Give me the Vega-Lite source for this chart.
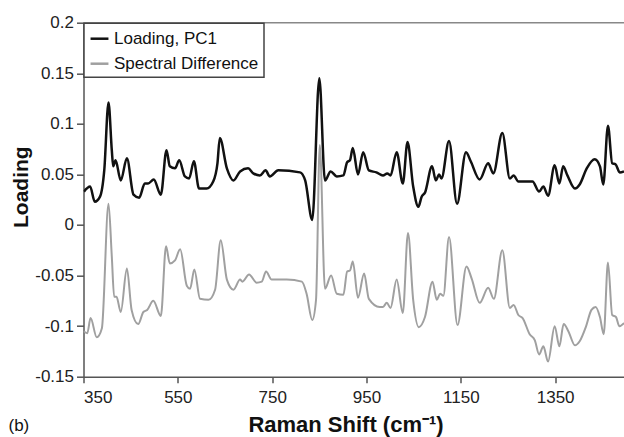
{
  "$schema": "https://vega.github.io/schema/vega-lite/v6.json",
  "width": 540.5,
  "height": 354,
  "autosize": {"type": "none"},
  "padding": {"left": 83.5, "top": 22.7, "right": 0, "bottom": 60.3},
  "background": "white",
  "title": {"text": "(b)", "orient": "bottom", "anchor": "start", "frame": "group", "fontSize": 17, "fontWeight": "normal", "color": "#111", "dx": -75, "offset": -18},
  "datasets": {
    "pc1": [
      {"s":"Loading, PC1","x":351,"y":0.033},{"s":"Loading, PC1","x":364,"y":0.038},{"s":"Loading, PC1","x":374,"y":0.023},{"s":"Loading, PC1","x":385,"y":0.028},{"s":"Loading, PC1","x":394,"y":0.054},{"s":"Loading, PC1","x":403,"y":0.121},{"s":"Loading, PC1","x":410,"y":0.074},{"s":"Loading, PC1","x":413,"y":0.058},{"s":"Loading, PC1","x":418,"y":0.064},{"s":"Loading, PC1","x":429,"y":0.044},{"s":"Loading, PC1","x":442,"y":0.066},{"s":"Loading, PC1","x":456,"y":0.030},{"s":"Loading, PC1","x":468,"y":0.027},{"s":"Loading, PC1","x":480,"y":0.041},{"s":"Loading, PC1","x":487,"y":0.041},{"s":"Loading, PC1","x":499,"y":0.045},{"s":"Loading, PC1","x":514,"y":0.030},{"s":"Loading, PC1","x":526,"y":0.074},{"s":"Loading, PC1","x":533,"y":0.058},{"s":"Loading, PC1","x":544,"y":0.056},{"s":"Loading, PC1","x":553,"y":0.064},{"s":"Loading, PC1","x":565,"y":0.048},{"s":"Loading, PC1","x":574,"y":0.046},{"s":"Loading, PC1","x":584,"y":0.063},{"s":"Loading, PC1","x":595,"y":0.036},{"s":"Loading, PC1","x":611,"y":0.036},{"s":"Loading, PC1","x":625,"y":0.043},{"s":"Loading, PC1","x":634,"y":0.061},{"s":"Loading, PC1","x":639,"y":0.086},{"s":"Loading, PC1","x":654,"y":0.056},{"s":"Loading, PC1","x":668,"y":0.044},{"s":"Loading, PC1","x":682,"y":0.053},{"s":"Loading, PC1","x":699,"y":0.056},{"s":"Loading, PC1","x":710,"y":0.051},{"s":"Loading, PC1","x":724,"y":0.049},{"s":"Loading, PC1","x":736,"y":0.054},{"s":"Loading, PC1","x":745,"y":0.048},{"s":"Loading, PC1","x":763,"y":0.054},{"s":"Loading, PC1","x":809,"y":0.052},{"s":"Loading, PC1","x":820,"y":0.044},{"s":"Loading, PC1","x":835,"y":0.005},{"s":"Loading, PC1","x":850,"y":0.145},{"s":"Loading, PC1","x":862,"y":0.044},{"s":"Loading, PC1","x":874,"y":0.053},{"s":"Loading, PC1","x":887,"y":0.048},{"s":"Loading, PC1","x":901,"y":0.049},{"s":"Loading, PC1","x":909,"y":0.062},{"s":"Loading, PC1","x":915,"y":0.064},{"s":"Loading, PC1","x":921,"y":0.076},{"s":"Loading, PC1","x":932,"y":0.050},{"s":"Loading, PC1","x":943,"y":0.072},{"s":"Loading, PC1","x":955,"y":0.054},{"s":"Loading, PC1","x":971,"y":0.052},{"s":"Loading, PC1","x":985,"y":0.049},{"s":"Loading, PC1","x":994,"y":0.051},{"s":"Loading, PC1","x":1001,"y":0.049},{"s":"Loading, PC1","x":1014,"y":0.072},{"s":"Loading, PC1","x":1027,"y":0.041},{"s":"Loading, PC1","x":1037,"y":0.082},{"s":"Loading, PC1","x":1049,"y":0.038},{"s":"Loading, PC1","x":1060,"y":0.018},{"s":"Loading, PC1","x":1067,"y":0.028},{"s":"Loading, PC1","x":1074,"y":0.032},{"s":"Loading, PC1","x":1089,"y":0.058},{"s":"Loading, PC1","x":1097,"y":0.044},{"s":"Loading, PC1","x":1104,"y":0.050},{"s":"Loading, PC1","x":1109,"y":0.046},{"s":"Loading, PC1","x":1125,"y":0.083},{"s":"Loading, PC1","x":1142,"y":0.021},{"s":"Loading, PC1","x":1161,"y":0.072},{"s":"Loading, PC1","x":1171,"y":0.063},{"s":"Loading, PC1","x":1190,"y":0.045},{"s":"Loading, PC1","x":1208,"y":0.061},{"s":"Loading, PC1","x":1219,"y":0.051},{"s":"Loading, PC1","x":1238,"y":0.091},{"s":"Loading, PC1","x":1254,"y":0.046},{"s":"Loading, PC1","x":1262,"y":0.049},{"s":"Loading, PC1","x":1272,"y":0.043},{"s":"Loading, PC1","x":1289,"y":0.043},{"s":"Loading, PC1","x":1302,"y":0.043},{"s":"Loading, PC1","x":1316,"y":0.033},{"s":"Loading, PC1","x":1325,"y":0.038},{"s":"Loading, PC1","x":1335,"y":0.029},{"s":"Loading, PC1","x":1349,"y":0.059},{"s":"Loading, PC1","x":1359,"y":0.041},{"s":"Loading, PC1","x":1367,"y":0.058},{"s":"Loading, PC1","x":1376,"y":0.049},{"s":"Loading, PC1","x":1392,"y":0.036},{"s":"Loading, PC1","x":1402,"y":0.040},{"s":"Loading, PC1","x":1417,"y":0.056},{"s":"Loading, PC1","x":1434,"y":0.065},{"s":"Loading, PC1","x":1445,"y":0.058},{"s":"Loading, PC1","x":1452,"y":0.040},{"s":"Loading, PC1","x":1462,"y":0.098},{"s":"Loading, PC1","x":1471,"y":0.061},{"s":"Loading, PC1","x":1478,"y":0.060},{"s":"Loading, PC1","x":1487,"y":0.052},{"s":"Loading, PC1","x":1496,"y":0.053}
    ],
    "diff": [
      {"s":"Spectral Difference","x":350,"y":-0.105},{"s":"Spectral Difference","x":358,"y":-0.107},{"s":"Spectral Difference","x":365,"y":-0.092},{"s":"Spectral Difference","x":378,"y":-0.111},{"s":"Spectral Difference","x":389,"y":-0.102},{"s":"Spectral Difference","x":403,"y":0.021},{"s":"Spectral Difference","x":410,"y":-0.031},{"s":"Spectral Difference","x":415,"y":-0.071},{"s":"Spectral Difference","x":420,"y":-0.071},{"s":"Spectral Difference","x":429,"y":-0.086},{"s":"Spectral Difference","x":442,"y":-0.043},{"s":"Spectral Difference","x":452,"y":-0.084},{"s":"Spectral Difference","x":466,"y":-0.098},{"s":"Spectral Difference","x":477,"y":-0.086},{"s":"Spectral Difference","x":485,"y":-0.084},{"s":"Spectral Difference","x":498,"y":-0.075},{"s":"Spectral Difference","x":514,"y":-0.090},{"s":"Spectral Difference","x":525,"y":-0.021},{"s":"Spectral Difference","x":533,"y":-0.038},{"s":"Spectral Difference","x":544,"y":-0.035},{"s":"Spectral Difference","x":555,"y":-0.024},{"s":"Spectral Difference","x":569,"y":-0.060},{"s":"Spectral Difference","x":576,"y":-0.063},{"s":"Spectral Difference","x":585,"y":-0.044},{"s":"Spectral Difference","x":597,"y":-0.073},{"s":"Spectral Difference","x":615,"y":-0.074},{"s":"Spectral Difference","x":629,"y":-0.064},{"s":"Spectral Difference","x":641,"y":-0.015},{"s":"Spectral Difference","x":654,"y":-0.054},{"s":"Spectral Difference","x":668,"y":-0.064},{"s":"Spectral Difference","x":682,"y":-0.054},{"s":"Spectral Difference","x":687,"y":-0.056},{"s":"Spectral Difference","x":701,"y":-0.049},{"s":"Spectral Difference","x":717,"y":-0.057},{"s":"Spectral Difference","x":728,"y":-0.056},{"s":"Spectral Difference","x":737,"y":-0.046},{"s":"Spectral Difference","x":749,"y":-0.054},{"s":"Spectral Difference","x":781,"y":-0.054},{"s":"Spectral Difference","x":813,"y":-0.056},{"s":"Spectral Difference","x":823,"y":-0.068},{"s":"Spectral Difference","x":835,"y":-0.094},{"s":"Spectral Difference","x":843,"y":-0.074},{"s":"Spectral Difference","x":851,"y":0.079},{"s":"Spectral Difference","x":862,"y":-0.063},{"s":"Spectral Difference","x":875,"y":-0.050},{"s":"Spectral Difference","x":887,"y":-0.068},{"s":"Spectral Difference","x":901,"y":-0.069},{"s":"Spectral Difference","x":909,"y":-0.046},{"s":"Spectral Difference","x":915,"y":-0.045},{"s":"Spectral Difference","x":921,"y":-0.036},{"s":"Spectral Difference","x":932,"y":-0.072},{"s":"Spectral Difference","x":945,"y":-0.048},{"s":"Spectral Difference","x":955,"y":-0.073},{"s":"Spectral Difference","x":978,"y":-0.081},{"s":"Spectral Difference","x":985,"y":-0.081},{"s":"Spectral Difference","x":993,"y":-0.077},{"s":"Spectral Difference","x":1001,"y":-0.082},{"s":"Spectral Difference","x":1014,"y":-0.054},{"s":"Spectral Difference","x":1027,"y":-0.087},{"s":"Spectral Difference","x":1038,"y":-0.008},{"s":"Spectral Difference","x":1049,"y":-0.074},{"s":"Spectral Difference","x":1061,"y":-0.101},{"s":"Spectral Difference","x":1074,"y":-0.091},{"s":"Spectral Difference","x":1090,"y":-0.056},{"s":"Spectral Difference","x":1099,"y":-0.074},{"s":"Spectral Difference","x":1106,"y":-0.068},{"s":"Spectral Difference","x":1113,"y":-0.070},{"s":"Spectral Difference","x":1125,"y":-0.012},{"s":"Spectral Difference","x":1143,"y":-0.099},{"s":"Spectral Difference","x":1162,"y":-0.041},{"s":"Spectral Difference","x":1173,"y":-0.053},{"s":"Spectral Difference","x":1190,"y":-0.077},{"s":"Spectral Difference","x":1208,"y":-0.062},{"s":"Spectral Difference","x":1220,"y":-0.073},{"s":"Spectral Difference","x":1238,"y":-0.025},{"s":"Spectral Difference","x":1254,"y":-0.082},{"s":"Spectral Difference","x":1262,"y":-0.079},{"s":"Spectral Difference","x":1272,"y":-0.089},{"s":"Spectral Difference","x":1281,"y":-0.092},{"s":"Spectral Difference","x":1296,"y":-0.108},{"s":"Spectral Difference","x":1307,"y":-0.114},{"s":"Spectral Difference","x":1316,"y":-0.128},{"s":"Spectral Difference","x":1325,"y":-0.120},{"s":"Spectral Difference","x":1335,"y":-0.135},{"s":"Spectral Difference","x":1349,"y":-0.100},{"s":"Spectral Difference","x":1359,"y":-0.120},{"s":"Spectral Difference","x":1368,"y":-0.098},{"s":"Spectral Difference","x":1378,"y":-0.105},{"s":"Spectral Difference","x":1392,"y":-0.119},{"s":"Spectral Difference","x":1402,"y":-0.115},{"s":"Spectral Difference","x":1415,"y":-0.101},{"s":"Spectral Difference","x":1427,"y":-0.084},{"s":"Spectral Difference","x":1436,"y":-0.081},{"s":"Spectral Difference","x":1445,"y":-0.091},{"s":"Spectral Difference","x":1453,"y":-0.108},{"s":"Spectral Difference","x":1462,"y":-0.037},{"s":"Spectral Difference","x":1471,"y":-0.089},{"s":"Spectral Difference","x":1479,"y":-0.091},{"s":"Spectral Difference","x":1486,"y":-0.100},{"s":"Spectral Difference","x":1496,"y":-0.097}
    ]
  },
  "layer": [
    {
      "data": {"values": [{"top": 0.2}]},
      "mark": {"type": "rule", "color": "#888888", "strokeWidth": 1.5},
      "encoding": {"y": {"field": "top", "type": "quantitative"}}
    },
    {
      "data": {"name": "pc1"},
      "mark": {"type": "line", "interpolate": "monotone", "strokeWidth": 2.5, "clip": true},
      "encoding": {
        "x": {"field": "x", "type": "quantitative"},
        "y": {"field": "y", "type": "quantitative"},
        "color": {"field": "s", "type": "nominal"}
      }
    },
    {
      "data": {"name": "diff"},
      "mark": {"type": "line", "interpolate": "monotone", "strokeWidth": 2, "clip": true},
      "encoding": {
        "x": {"field": "x", "type": "quantitative"},
        "y": {"field": "y", "type": "quantitative"},
        "color": {"field": "s", "type": "nominal"}
      }
    }
  ],
  "encoding": {
    "x": {"type": "quantitative", "scale": {"domain": [350, 1496], "nice": false, "zero": false},
      "axis": {"values": [350, 550, 750, 950, 1150, 1350], "format": "d", "title": "Raman Shift (cm⁻¹)", "titleFontSize": 22, "tickSize": 6, "labelPadding": 7, "titleX": 262, "titleY": 55, "titleBaseline": "alphabetic", "titleAlign": "center"}},
    "y": {"type": "quantitative", "scale": {"domain": [-0.15, 0.2], "nice": false, "zero": false},
      "axis": {"values": [-0.15, -0.1, -0.05, 0, 0.05, 0.1, 0.15, 0.2], "title": "Loading", "labelExpr": "'' + datum.value", "tickSize": 7, "labelPadding": 3, "titleX": -62, "titleY": 164, "titleAngle": -90, "titleBaseline": "middle", "titleAlign": "center"}},
    "color": {"scale": {"domain": ["Loading, PC1", "Spectral Difference"], "range": ["#111111", "#a0a0a0"]},
      "legend": {"title": null, "orient": "none", "legendX": 0.5, "legendY": 0.5, "symbolType": "stroke", "symbolSize": 320, "symbolStrokeWidth": 2.5, "labelFontSize": 17, "labelColor": "#111", "labelOffset": 4, "rowPadding": 6, "padding": 5, "strokeColor": "#444444", "fillColor": "white"}}
  },
  "config": {
    "font": "Liberation Sans",
    "view": {"stroke": null},
    "legend": {"strokeWidth": 1.5},
    "axis": {"grid": false, "domainColor": "#555555", "tickColor": "#555555", "domainWidth": 1.5, "tickWidth": 1.5, "labelColor": "#222222", "labelFontSize": 17, "titleColor": "#111111", "titleFontSize": 21, "titleFontWeight": "bold"}
  }
}
